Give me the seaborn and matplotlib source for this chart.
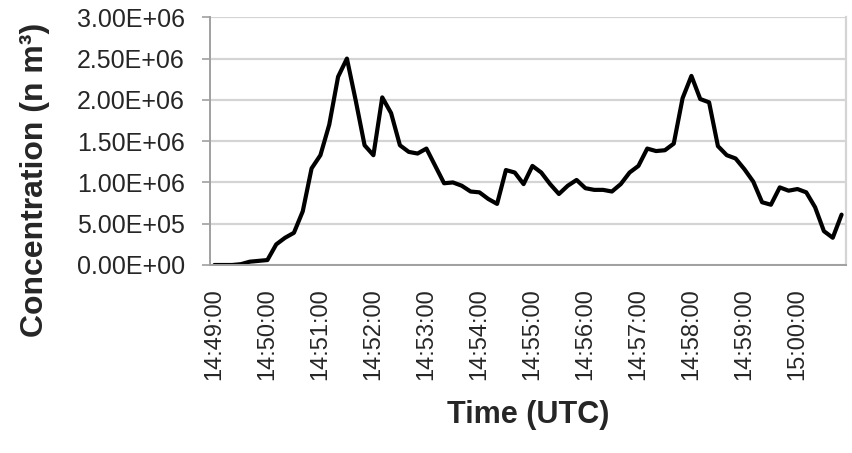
import numpy as np
import pandas as pd
import matplotlib
matplotlib.use("Agg")
import matplotlib.pyplot as plt
from matplotlib.ticker import FixedLocator, FuncFormatter
import seaborn as sns

# particle concentration, one reading every 10 s from 14:49:00
conc = [0, 0, 0, 1e4, 4e4, 5e4, 6e4, 2.5e5, 3.3e5, 3.9e5,
        6.5e5, 1.17e6, 1.33e6, 1.70e6, 2.28e6, 2.50e6, 1.99e6, 1.45e6, 1.33e6, 2.03e6,
        1.84e6, 1.45e6, 1.37e6, 1.35e6, 1.41e6, 1.20e6, 9.9e5, 1.0e6, 9.6e5, 8.9e5,
        8.8e5, 8.0e5, 7.4e5, 1.15e6, 1.12e6, 9.8e5, 1.20e6, 1.12e6, 9.8e5, 8.6e5,
        9.6e5, 1.03e6, 9.3e5, 9.1e5, 9.1e5, 8.9e5, 9.8e5, 1.12e6, 1.20e6, 1.41e6,
        1.38e6, 1.39e6, 1.47e6, 2.02e6, 2.29e6, 2.01e6, 1.97e6, 1.44e6, 1.33e6, 1.29e6,
        1.16e6, 1.01e6, 7.6e5, 7.3e5, 9.4e5, 9.0e5, 9.2e5, 8.8e5, 7.0e5, 4.1e5,
        3.3e5, 6.1e5]
times = pd.date_range("2000-01-01 14:49:00", periods=len(conc), freq="10s").strftime("%H:%M:%S")
tick_labels = list(times[::6])

df = pd.DataFrame({"pos": np.arange(len(conc)), "time": times, "conc": conc})

sns.set_style("white")
plt.rcParams["font.family"] = ["Liberation Sans", "DejaVu Sans"]

fig = plt.figure(figsize=(8.52, 4.53), dpi=100)
ax = fig.add_axes([210/852, 1-265/453, 636/852, (265-17.3)/453])

sns.lineplot(data=df, x="pos", y="conc", color="black", linewidth=3.0, ax=ax)

ax.set_xlim(-0.5, len(conc) - 0.5)
ax.set_ylim(0, 3e6)
ax.set_yticks(np.arange(0, 3.01e6, 5e5))
ax.yaxis.set_major_formatter(FuncFormatter(lambda v, p: f"{v:.2E}"))
ax.grid(axis="y", color="#d4d4d4", linewidth=1.6)
ax.set_axisbelow(True)

ax.xaxis.set_major_locator(FixedLocator(list(df["pos"][::6])))
ax.set_xticklabels(tick_labels, rotation=90)
ax.xaxis.set_minor_locator(FixedLocator(np.arange(-0.5, len(conc), 1)))
ax.tick_params(axis="x", which="major", length=0, pad=17, labelsize=17, labelcolor="#262626")
ax.tick_params(axis="x", which="minor", length=4, width=1, color="#a0a0a0", direction="out")
ax.tick_params(axis="y", which="major", length=6, width=1.2, color="#a0a0a0", pad=12,
               labelsize=18, labelcolor="#262626", left=True)

for side in ["left", "bottom"]:
    ax.spines[side].set_color("#a0a0a0")
    ax.spines[side].set_linewidth(1.4)
ax.spines["right"].set_color("#d4d4d4")
ax.spines["right"].set_linewidth(1.6)
ax.spines["top"].set_visible(False)

ax.set_xlabel("Time (UTC)", fontsize=22, fontweight="bold", labelpad=14)
ax.set_ylabel("Concentration (n m³)", fontsize=23, fontweight="bold")
ax.yaxis.set_label_coords(-0.252, 0.343)

fig.savefig("out.png", dpi=100)
